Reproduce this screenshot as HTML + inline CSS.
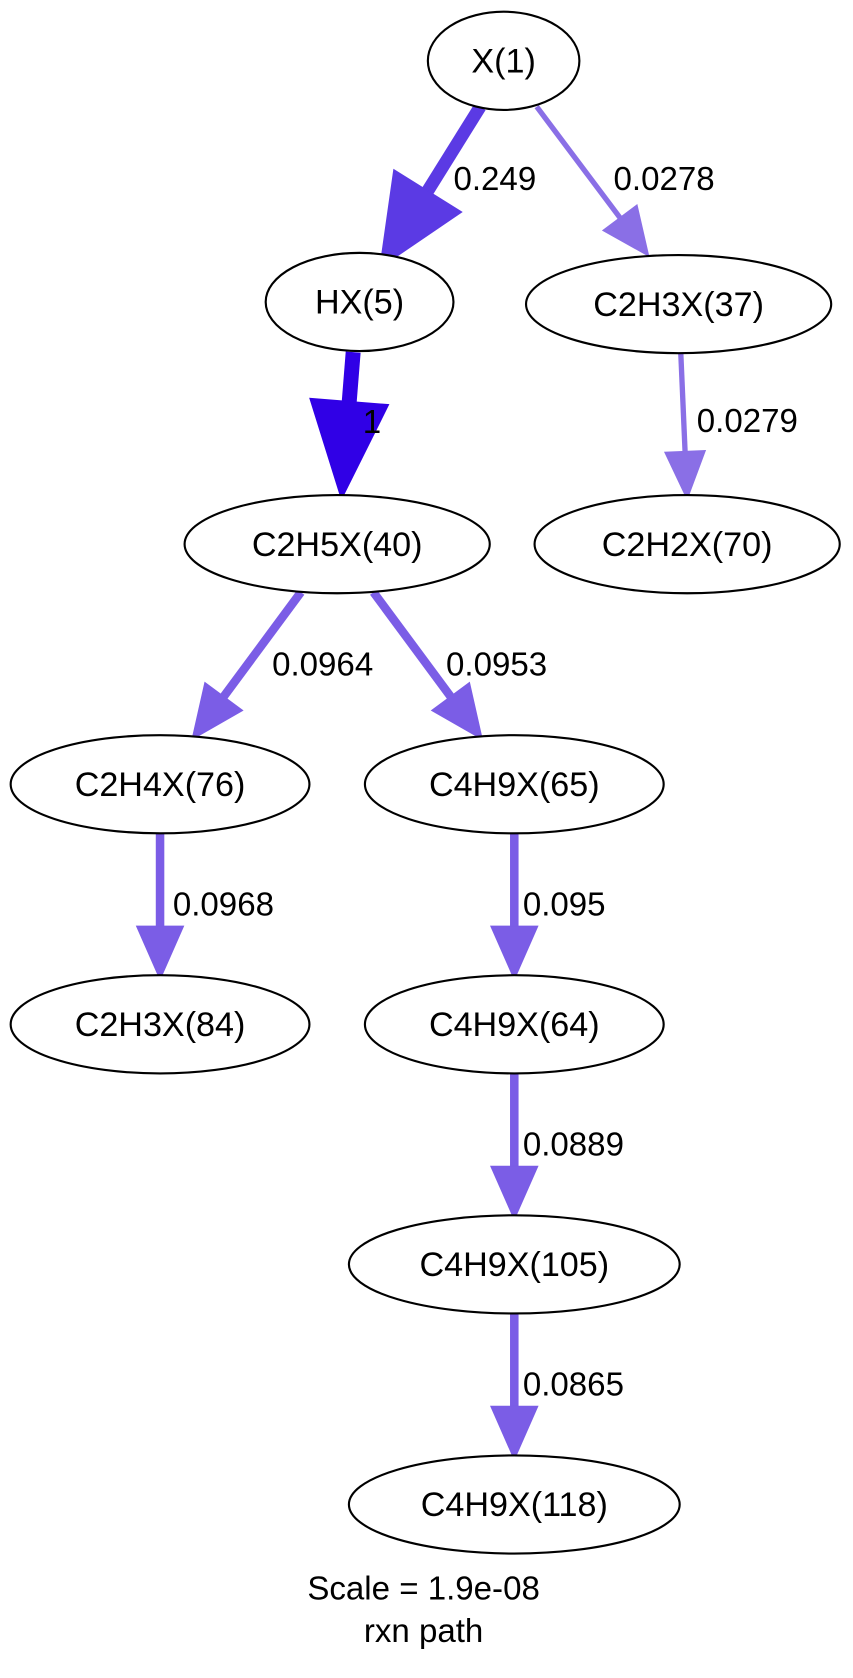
<!DOCTYPE html>
<html><head><meta charset="utf-8"><style>
html,body{margin:0;padding:0;background:#fff;}
svg{display:block;font-family:"Liberation Sans",Arial,sans-serif;}
</style></head><body>
<svg id="g" width="853" height="1678" viewBox="0 0 853 1678">
<rect width="853" height="1678" fill="#fff"/>
<g transform="scale(1.067)">
<g id="edges"></g><g id="nodes"></g>
<text x="397" y="1499" font-size="31" text-anchor="middle">Scale = 1.9e-08</text>
<text x="397" y="1539" font-size="31" text-anchor="middle">rxn path</text>
</g>
</svg>
<script>
const nodeLabels=["X(1)","HX(5)","C2H3X(37)","C2H5X(40)","C2H2X(70)","C2H4X(76)","C4H9X(65)","C2H3X(84)","C4H9X(64)","C4H9X(105)","C4H9X(118)"];
const nodeX=[472,337,636,316,644,150,482,150,482,482,482];
const nodeY=[57,283,285,510,510,735,735,960,960,1185,1410];
const nodeRx=[71,88,143,143,143,140,140,140,140,155,155];
const edgeValues=["0.249","0.0278","1","0.0279","0.0964","0.0953","0.0968","0.095","0.0889","0.0865"];
const edgeSX=[450,503,331,638,282,350,150,482,482,482];
const edgeSY=[100,100,330,330,555,555,780,780,1005,1230];
const edgeTX=[356,608,320,644,180,452,150,482,482,482];
const edgeTY=[251,240,468,468,693,693,918,918,1143,1368];
const edgeWidth=[12,5,14,5,8,8,8,8,8,8];
const edgeColor=["#5b3ae4","#8a6fe6","#3000e6","#8a6fe6","#7b5de6","#7b5de6","#7b5de6","#7b5de6","#7b5de6","#7b5de6"];
const headL=[85,45,92,45,50,50,50,50,50,50];
const headW=[75,40,74,38,44,44,44,44,44,44];
const labelX=[425,575,340,653,255,418,162,490,490,490];
const labelY=[178,178,406,405,633,633,858,858,1083,1308];
const NS="http://www.w3.org/2000/svg";
const RY=46;
const eg=document.getElementById('edges');
for(let k=0;k<edgeValues.length;k++){
 const s=[edgeSX[k],edgeSY[k]],t=[edgeTX[k],edgeTY[k]];
 const len=Math.hypot(t[0]-s[0],t[1]-s[1]);const ux=(t[0]-s[0])/len,uy=(t[1]-s[1])/len;
 const bx=t[0]-ux*headL[k],by=t[1]-uy*headL[k];
 const ln=document.createElementNS(NS,'line');
 ln.setAttribute('x1',s[0]);ln.setAttribute('y1',s[1]);ln.setAttribute('x2',bx+ux*4);ln.setAttribute('y2',by+uy*4);
 ln.setAttribute('stroke',edgeColor[k]);ln.setAttribute('stroke-width',edgeWidth[k]);
 
 
 eg.appendChild(ln);
 const hw=headW[k]/2;
 const p=document.createElementNS(NS,'polygon');
 p.setAttribute('points',`${t[0]},${t[1]} ${bx-uy*hw},${by+ux*hw} ${bx+uy*hw},${by-ux*hw}`);
 p.setAttribute('fill',edgeColor[k]);p.setAttribute('stroke',edgeColor[k]);
 
 
 eg.appendChild(p);
}
for(let k=0;k<edgeValues.length;k++){
 const tx=document.createElementNS(NS,'text');
 tx.setAttribute('x',labelX[k]);tx.setAttribute('y',labelY[k]);tx.setAttribute('font-size','31');
 tx.textContent=edgeValues[k];
 
 
 eg.appendChild(tx);
}
const ng=document.getElementById('nodes');
for(let i=0;i<nodeLabels.length;i++){
 const g=document.createElementNS(NS,'g');
 
 
 const e=document.createElementNS(NS,'ellipse');
 e.setAttribute('cx',nodeX[i]);e.setAttribute('cy',nodeY[i]);e.setAttribute('rx',nodeRx[i]);e.setAttribute('ry',RY);
 e.setAttribute('fill','#fff');e.setAttribute('stroke','#000');e.setAttribute('stroke-width','2');
 g.appendChild(e);
 const t=document.createElementNS(NS,'text');
 t.setAttribute('x',nodeX[i]);t.setAttribute('y',nodeY[i]+11);t.setAttribute('font-size','32');t.setAttribute('text-anchor','middle');
 t.textContent=nodeLabels[i];
 g.appendChild(t);
 ng.appendChild(g);
}
</script>
</body></html>
